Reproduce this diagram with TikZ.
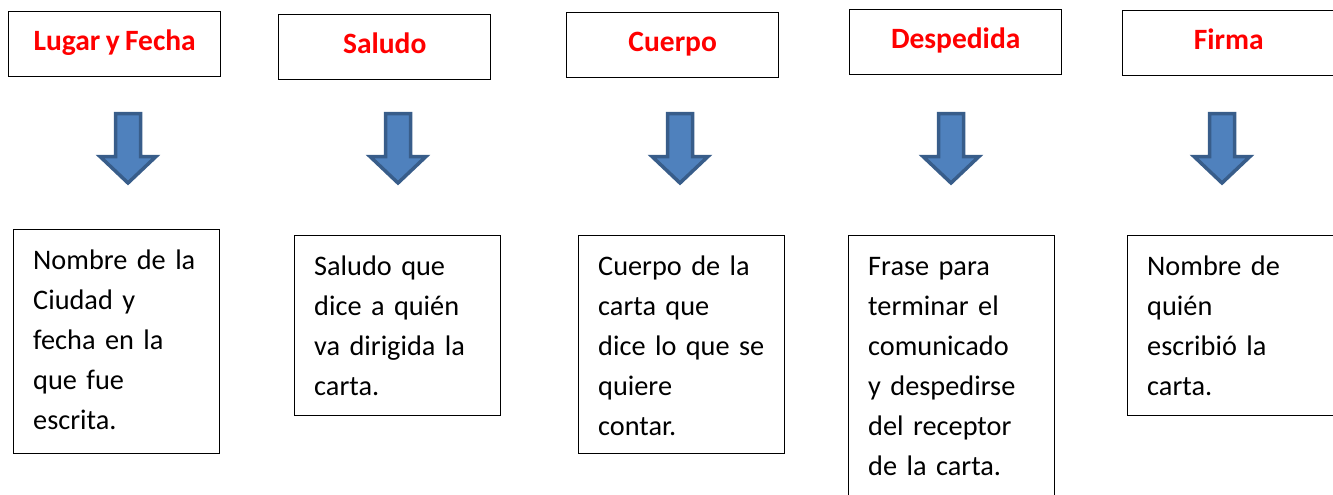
\documentclass[tikz,border=0pt]{standalone}
\usepackage{fontspec}
\setmainfont{Carlito}[WordSpace=0.8]
\usetikzlibrary{calc}
\definecolor{arrfill}{HTML}{4F81BD}
\definecolor{arrline}{HTML}{385D8A}
\definecolor{headred}{HTML}{FF0000}
\tikzset{
  tbox/.style={draw=black, line width=1.4pt, minimum width=212pt, minimum height=65pt,
    anchor=north west, inner sep=0pt, text=headred,
    font=\fontsize{29.5}{34}\selectfont\bfseries, text height=20pt, text depth=7pt},
  bbox/.style={draw=black, line width=1.2pt, minimum width=206pt, anchor=north west, inner sep=0pt},
  btext/.style={anchor=base west, inner sep=0pt, text width=185pt, align=left,
    font=\fontsize{28.3}{40}\selectfont},
  blockarrow/.style={fill=arrfill, draw=arrline, line width=3.5pt, line join=miter}
}
\begin{document}
\begin{tikzpicture}[x=1pt,y=-1pt]
\useasboundingbox (0,0) rectangle (1333,495);
% top boxes
\node[tbox] (t1) at (8,11) {Lugar y Fecha};
\node[tbox] (t2) at (278,14) {Saludo};
\node[tbox] (t3) at (566,12) {Cuerpo};
\node[tbox] (t4) at (849,9) {Despedida};
\node[tbox] (t5) at (1122,10) {Firma};
% block arrows
\foreach \cx in {128,398,680,951,1222}{
  \draw[blockarrow] (\cx-12.5,113.5) -- (\cx+12.5,113.5) -- (\cx+12.5,156.5) -- (\cx+28,156.5)
    -- (\cx,183) -- (\cx-28,156.5) -- (\cx-12.5,156.5) -- cycle;
}
% bottom boxes
\node[bbox, minimum height=224pt] (b1) at (13,229) {};
\node[bbox, minimum height=180pt] (b2) at (294,235) {};
\node[bbox, minimum height=218pt] (b3) at (578,235) {};
\node[bbox, minimum height=275pt] (b4) at (848,235) {};
\node[bbox, minimum height=180pt] (b5) at (1127,235) {};
\node[btext] (b1t) at ($(b1.north west)+(20,40)$) {Nombre de la\\Ciudad y\\fecha en la\\que fue\\escrita.};
\node[btext] (b2t) at ($(b2.north west)+(20,40)$) {Saludo que\\dice a quién\\va dirigida la\\carta.};
\node[btext] (b3t) at ($(b3.north west)+(20,40)$) {Cuerpo de la\\carta que\\dice lo que se\\quiere\\contar.};
\node[btext] (b4t) at ($(b4.north west)+(20,40)$) {Frase para\\terminar el\\comunicado\\y despedirse\\del receptor\\de la carta.};
\node[btext] (b5t) at ($(b5.north west)+(20,40)$) {Nombre de\\quién\\escribió la\\carta.};
\end{tikzpicture}
\end{document}
